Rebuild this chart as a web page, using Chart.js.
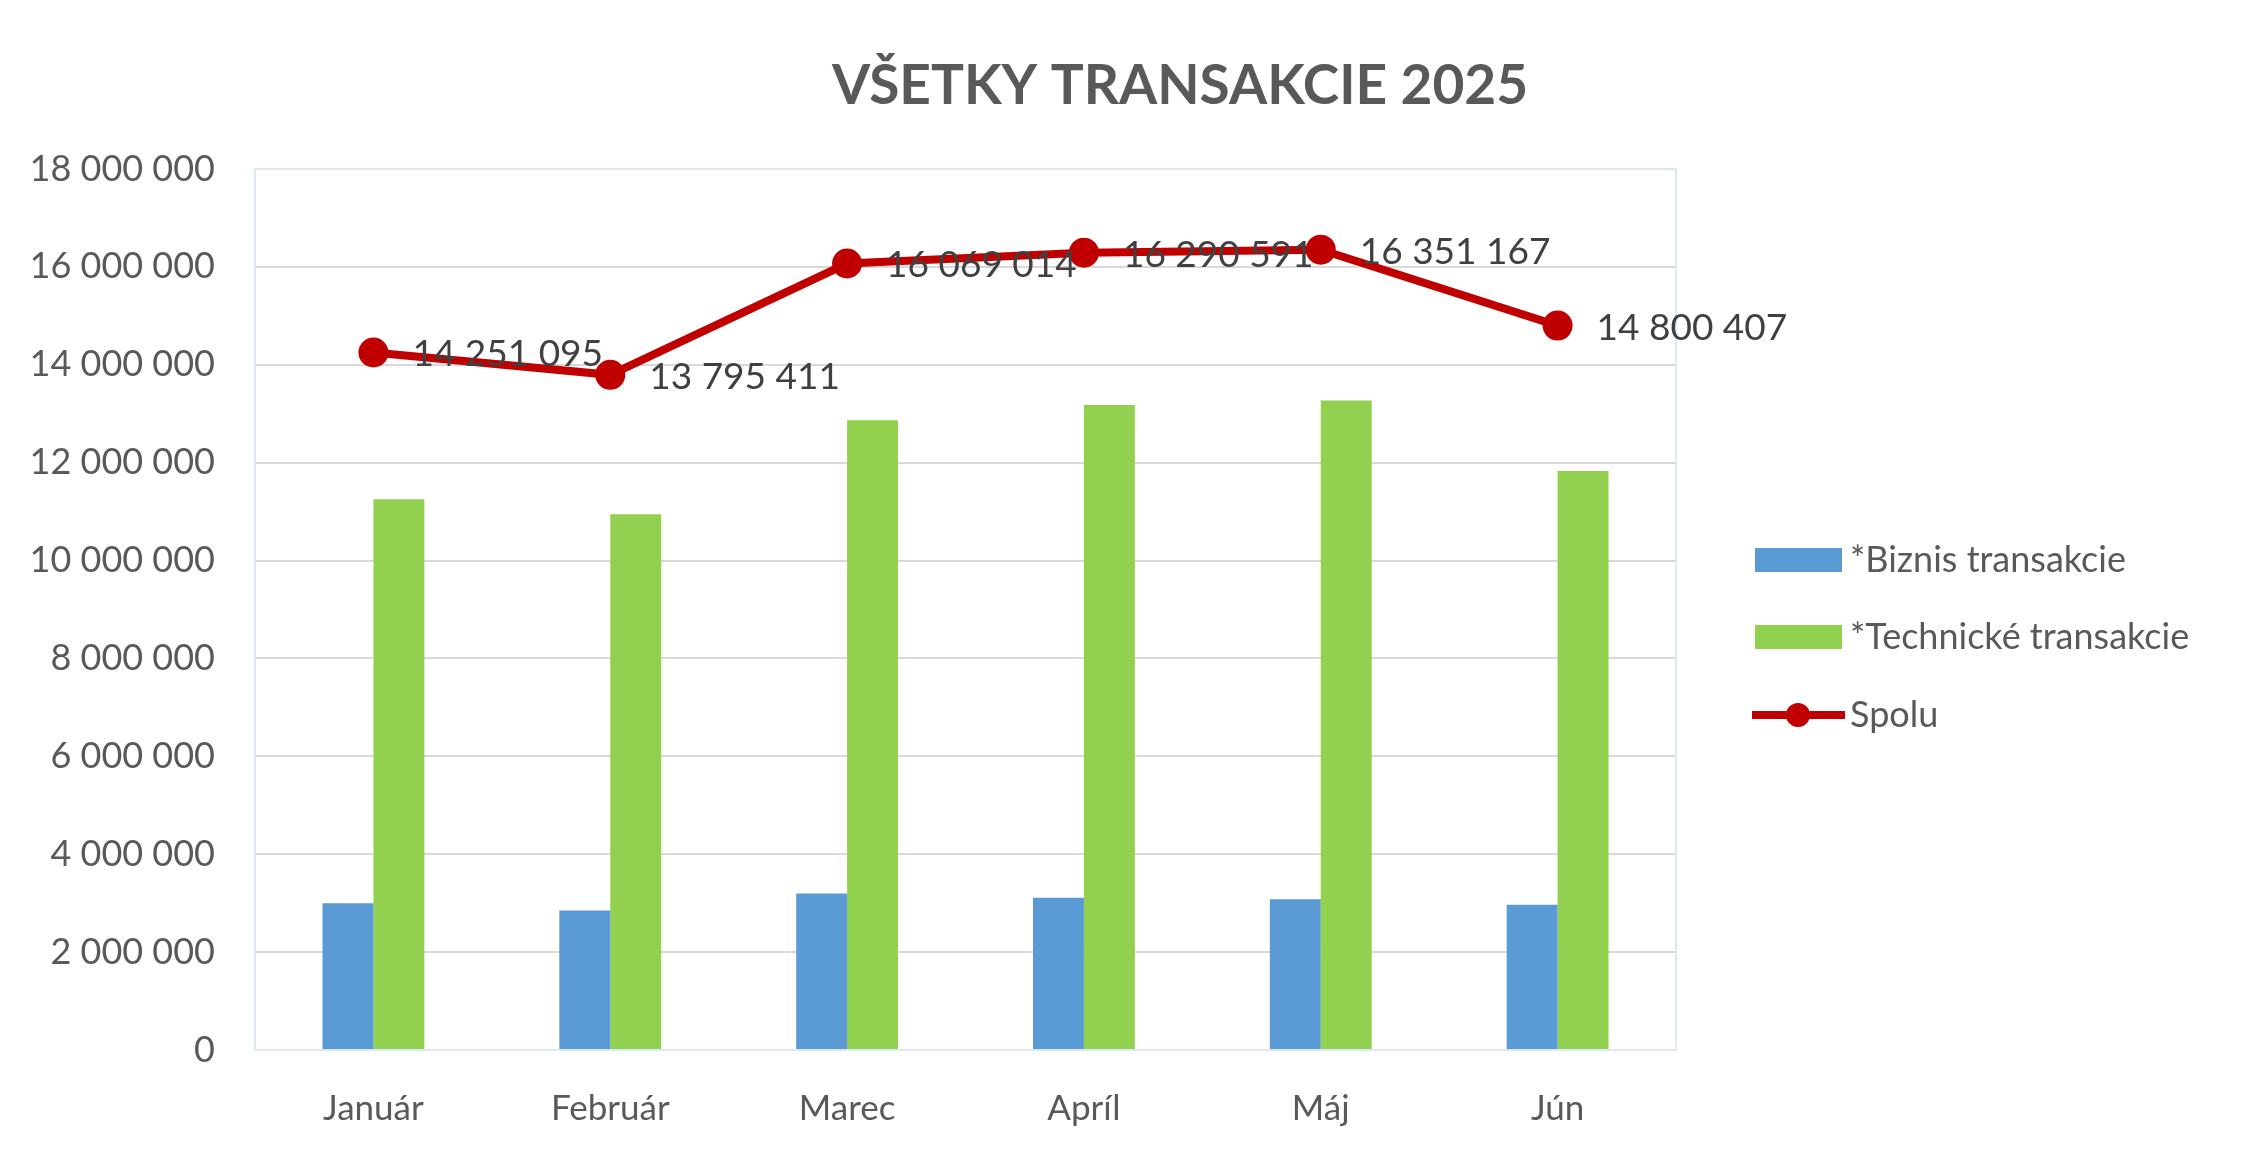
<!DOCTYPE html>
<html>
<head>
<meta charset="utf-8">
<script src="https://cdn.jsdelivr.net/npm/chart.js@4"></script>
<style>
  html, body { margin: 0; padding: 0; background: #fff; }
  #wrap { width: 2261px; height: 1155px; }
</style>
</head>
<body>
<div id="wrap"><canvas id="chart" width="2261" height="1155"></canvas></div>
<script>
// Data
const months = ['Január', 'Február', 'Marec', 'Apríl', 'Máj', 'Jún'];
const biznis = [3000000, 2850000, 3200000, 3110000, 3080000, 2970000];
const technicke = [11251095, 10945411, 12869014, 13180591, 13271167, 11830407];
const spolu = [14251095, 13795411, 16069014, 16290591, 16351167, 14800407];
const yTicks = [0, 2000000, 4000000, 6000000, 8000000, 10000000, 12000000, 14000000, 16000000, 18000000];

const FONT = 'Lato, "Open Sans", sans-serif';
const TEXT = '#595959';

function fmt(n) {
  return String(n).replace(/\B(?=(\d{3})+(?!\d))/g, ' ');
}

// Title, point labels, legend
const extras = {
  id: 'extras',
  afterDraw(chart) {
    const ctx = chart.ctx;
    ctx.save();
    ctx.fillStyle = TEXT;
    ctx.font = 'bold 55px ' + FONT;
    ctx.textAlign = 'center';
    ctx.textBaseline = 'middle';
    ctx.fillText('VŠETKY TRANSAKCIE 2025', 1180, 86);

    // labels next to line points
    const meta = chart.getDatasetMeta(0);
    ctx.font = '37px ' + FONT;
    ctx.textAlign = 'left';
    ctx.fillStyle = '#404040';
    meta.data.forEach((pt, i) => {
      ctx.fillText(fmt(spolu[i]), pt.x + 39, pt.y + 2);
    });

    // legend
    ctx.font = '36px ' + FONT;
    ctx.fillStyle = '#5b9bd5';
    ctx.fillRect(1755, 548, 87, 24);
    ctx.fillStyle = '#92d050';
    ctx.fillRect(1755, 625, 87, 24);
    ctx.strokeStyle = '#c00000';
    ctx.lineWidth = 8;
    ctx.beginPath();
    ctx.moveTo(1752, 715);
    ctx.lineTo(1845, 715);
    ctx.stroke();
    ctx.fillStyle = '#c00000';
    ctx.beginPath();
    ctx.arc(1798, 715, 12, 0, Math.PI * 2);
    ctx.fill();
    ctx.fillStyle = TEXT;
    ctx.fillText('*Biznis transakcie', 1850, 560);
    ctx.fillText('*Technické transakcie', 1850, 637);
    ctx.fillText('Spolu', 1850, 715);
    ctx.restore();
  },
  beforeDatasetsDraw(chart) {
    const a = chart.chartArea;
    const ctx = chart.ctx;
    ctx.save();
    ctx.strokeStyle = '#dbe8f5';
    ctx.lineWidth = 2;
    ctx.strokeRect(a.left, a.top, a.right - a.left, a.bottom - a.top);
    ctx.restore();
  }
};

new Chart(document.getElementById('chart'), {
  data: {
    labels: months,
    datasets: [
      {
        type: 'line',
        label: 'Spolu',
        data: spolu,
        borderColor: '#c00000',
        backgroundColor: '#c00000',
        borderWidth: 8,
        pointRadius: 11,
        pointHoverRadius: 11,
        order: 0
      },
      {
        type: 'bar',
        label: '*Biznis transakcie',
        data: biznis,
        backgroundColor: '#5b9bd5',
        categoryPercentage: 0.43,
        barPercentage: 1,
        order: 1
      },
      {
        type: 'bar',
        label: '*Technické transakcie',
        data: technicke,
        backgroundColor: '#92d050',
        categoryPercentage: 0.43,
        barPercentage: 1,
        order: 1
      }
    ]
  },
  options: {
    responsive: false,
    animation: false,
    layout: { padding: { left: 0, right: 585, top: 169, bottom: 0 } },
    plugins: {
      legend: { display: false },
      tooltip: { enabled: false }
    },
    scales: {
      x: {
        grid: { display: false },
        border: { color: '#bdd7ee', width: 2 },
        ticks: { color: TEXT, font: { family: FONT, size: 35 }, padding: 30 },
        afterFit(s) { s.height = 105; }
      },
      y: {
        min: 0,
        max: 18000000,
        afterBuildTicks(s) { s.ticks = yTicks.map(v => ({ value: v })); },
        grid: { color: '#d9d9d9', lineWidth: 2, drawTicks: false },
        border: { display: false },
        ticks: {
          color: TEXT,
          font: { family: FONT, size: 36 },
          padding: 40,
          callback: v => fmt(v)
        },
        afterFit(s) { s.width = 255; }
      }
    }
  },
  plugins: [extras]
});
</script>
</body>
</html>
